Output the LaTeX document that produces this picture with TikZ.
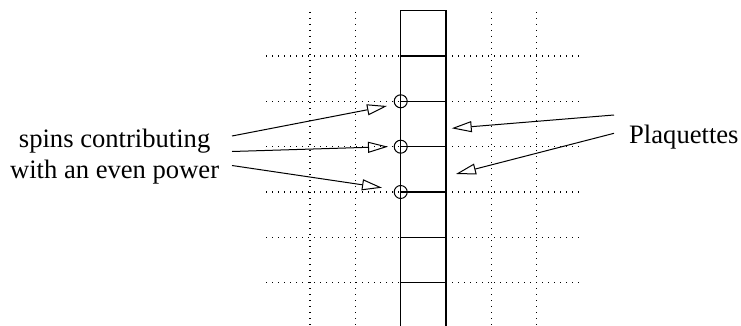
\documentclass[tikz,border=0pt]{standalone}
\usepackage{fontspec}
\setmainfont{Liberation Serif}
\usetikzlibrary{arrows.meta}
\begin{document}
\begin{tikzpicture}[x=1pt,y=-1pt,
  gridline/.style={line width=1.2pt, dash pattern=on 1.2pt off 4.8pt, black},
  stripline/.style={line width=1.4pt},
  spin/.style={circle, draw, line width=1pt, minimum size=13pt, inner sep=0pt},
  pointer/.style={line width=1pt, -{Triangle[open,length=20pt,width=11pt]}},
  lbl/.style={font=\fontsize{26.6}{31}\selectfont, inner sep=0pt}]
\useasboundingbox (0,0) rectangle (741,326);
% dotted grid
\foreach \x in {310,355.3,400.7,446,491.3,536.7}
  \draw[gridline] (\x,12) -- (\x,326);
\foreach \y in {56,101.3,146.7,192,237.3,282.7}
  \draw[gridline] (266,\y) -- (582,\y);
% strip of plaquettes
\draw[stripline] (400.7,326) -- (400.7,10.5) -- (446,10.5) -- (446,326);
\foreach \y in {56,101.3,146.7,192,237.3,282.7}
  \draw[stripline] (400.7,\y) -- (446,\y);
% spins
\node[spin] (s1) at (400.7,101.3) {};
\node[spin] (s2) at (400.7,146.7) {};
\node[spin] (s3) at (400.7,192) {};
% labels
\node[lbl, align=center, anchor=base] (spins) at (114.6,178.3) {spins contributing\\with an even power};
\node[lbl, anchor=base west] (plaq) at (629,143.3) {Plaquettes};
% arrow ends
\coordinate (a1) at (232,136);
\coordinate (a2) at (232,151.5);
\coordinate (a3) at (232,165.5);
\coordinate (t1) at (387,106);
\coordinate (t2) at (388,146.7);
\coordinate (t3) at (382,187.7);
\coordinate (b1) at (614,115);
\coordinate (b2) at (614,133.3);
\coordinate (p1) at (451.7,128.3);
\coordinate (p2) at (456,174);
\draw[pointer] (a1) -- (t1);
\draw[pointer] (a2) -- (t2);
\draw[pointer] (a3) -- (t3);
\draw[pointer] (b1) -- (p1);
\draw[pointer] (b2) -- (p2);
\end{tikzpicture}
\end{document}
